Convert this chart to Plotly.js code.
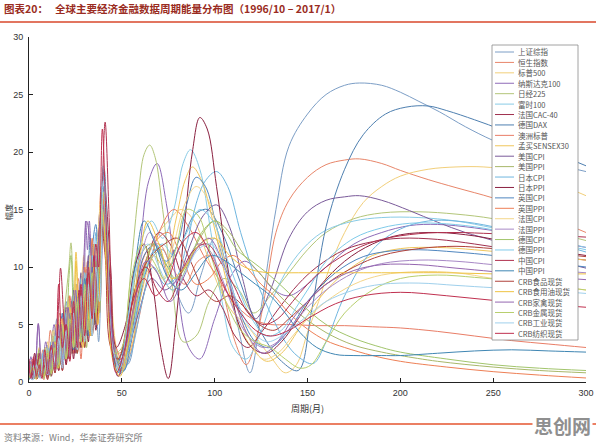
<!DOCTYPE html>
<html><head><meta charset="utf-8">
<script src="https://cdn.plot.ly/plotly-3.0.1.min.js"></script>
<style>html,body{margin:0;padding:0;background:#fff;}#chart{width:596px;height:443px;}</style>
</head><body><div id="chart"></div>
<script>
// ---- series names & colours (legend order) ----
const names = ["上证综指","恒生指数","标普500","纳斯达克100","日经225","富时100","法国CAC-40","德国DAX","澳洲标普","孟买SENSEX30",
  "美国CPI","美国PPI","日本CPI","日本PPI","英国CPI","英国PPI","法国CPI","法国PPI","德国CPI","德国PPI","中国CPI","中国PPI",
  "CRB食品现货","CRB食用油现货","CRB家禽现货","CRB金属现货","CRB工业现货","CRB纺织现货"];
const colors = ["#7c9ec6","#e8866a","#f2cf7a","#8e6bb8","#b3c679","#88cbe6","#a0304f","#4e7fb0","#e97d66","#f0c65c",
  "#7a5a9a","#a8b86a","#6fb6df","#8a2040","#4f86bf","#ee7f55","#f4d68a","#a889c6","#a2c56c","#7fcbea","#b0304e","#3f86b3",
  "#b0413a","#efc343","#9566b0","#b8cf6e","#9fd0ec","#c0304f"];

// ---- period (months) and amplitude values per series ----
const x01=[0,2,4,6,8,10,12.5,15,17.5,20,22.5,25,27.5,30,32.5,35,37.5,40.5,44,48,53,59,65,72,79,86,93,100,107,113,119,126,133,140,150,160,170,178,190,200,210,221,235,250,270,285,300];
const y01=[0.5,1.8,0.4,2.6,0.6,3.2,1.0,5.5,1.8,7.0,2.5,8.5,3.0,9.8,4.5,12.0,3.5,16.5,8.0,2.0,1.5,6.5,10.5,11.5,8.0,6.0,9.5,12.5,9.0,4.5,0.8,7.5,15.0,20.5,23.3,25.0,25.8,26.0,25.8,25.2,24.4,23.5,22.2,21.0,19.7,18.9,18.3];
const x02=[0,1.5,3.5,5.5,7.5,9.5,11.5,14,16.5,19,21.5,24,26.5,29,31.5,34,36.5,39.5,43,47,52,58,64,70,77,84,91,98,105,111,117,122,127,133,140,150,160,170,178,190,200,215,230,250,270,285,300];
const y02=[1.2,0.3,2.0,0.5,2.8,0.8,4.5,1.2,6.0,2.0,7.5,2.5,9.0,3.5,10.5,5.0,9.0,16.0,9.0,2.5,3.0,8.5,11.5,12.0,10.0,8.5,10.5,11.0,7.5,3.5,1.5,3.5,7.5,13.0,15.8,17.8,18.9,19.3,19.4,19.0,18.4,17.6,16.9,16.0,14.9,14.0,13.0];
const x03=[0,2,4,6,8,10,12,14.5,17,19.5,22,24.5,27,29.5,32,34.5,37,40,43.5,47,51,56,62,68,75,82,89,96,103,110,117,124,131,138,144,150,156,162,170,180,190,200,215,230,245,260,280,300];
const y03=[0.3,1.5,0.2,2.2,0.5,3.5,1.0,5.0,1.5,6.5,2.0,8.0,3.0,11.0,4.0,11.5,6.0,17.5,10.0,3.0,1.0,5.0,9.5,12.5,14.0,15.0,14.0,11.0,8.0,6.0,5.0,3.5,2.0,0.8,1.5,4.3,7.0,10.0,13.0,15.6,17.0,17.9,18.5,18.7,18.7,18.4,17.5,16.2];
const x04=[0,1,3,5,7,9,11,13.5,16,18.5,21,23.5,26,28.5,30.5,31.5,32.5,35,38.5,42,46,50,55,60,64.5,69,74,80,86,92,100,108,116,124,132,140,150,160,175,190,205,220,240,260,280,300];
const y04=[0.8,2.2,0.5,5.0,1.0,3.5,1.0,5.0,2.0,6.0,2.5,7.5,3.0,4.0,14.0,11.5,14.0,5.0,14.5,10.0,3.5,0.8,4.5,12.0,17.5,19.0,15.5,8.0,3.0,2.0,5.5,9.0,10.5,9.5,8.0,7.5,8.5,10.0,12.0,13.0,13.6,13.7,13.4,12.9,12.3,11.7];
const x05=[0,2,4,6,8,10,12,14,16.5,19,21.5,22.6,24,26.5,29,31.5,34,36.5,40,43.5,47,51,55,59,62,65,68,72,77,83,90,97,105,113,121,130,140,150,160,175,190,210,230,250,275,300];
const y05=[0.2,1.0,0.3,2.0,0.6,2.8,0.9,4.0,1.5,6.0,10.0,12.1,8.0,3.5,8.5,4.0,11.0,6.0,17.0,8.0,1.5,3.5,10.0,16.5,19.8,20.6,19.5,15.0,8.5,3.5,4.0,7.0,9.0,8.0,6.0,7.5,9.5,11.5,13.0,14.2,14.7,14.8,14.6,14.2,13.3,12.3];
const x06=[0,1.5,3.5,5.5,7.5,9.5,11.5,13.5,15.5,18,20.5,23,25.5,28,30.5,33,35.5,38.5,40,42,45,49,54,60,66,72,78,83,87,92,98,104,110,117,124,132,140,150,160,175,190,210,230,250,275,300];
const y06=[1.0,0.2,1.5,0.4,2.5,0.8,3.0,1.2,4.5,1.5,6.0,2.5,8.5,3.0,9.5,5.0,12.0,10.0,18.0,14.0,4.0,1.0,6.0,12.0,14.0,12.5,15.0,19.0,20.2,18.5,13.0,7.0,3.0,2.0,4.0,7.5,10.0,12.0,13.2,14.0,14.3,14.3,14.0,13.4,12.6,11.7];
const x07=[0,2,4,6,8,10,12,14,16,18,20,22,24,26,28,30,32,34,36.5,40.5,44,48,53,58,64,70,76,83,90,97,104,111,118,126,135,145,155,170,185,200,220,240,260,280,300];
const y07=[1.5,0.3,2.5,0.5,1.8,0.3,3.0,0.8,4.0,1.0,5.5,2.0,7.0,2.5,9.0,3.5,10.5,4.5,8.0,17.0,10.0,2.0,2.5,7.0,11.0,13.0,12.0,9.0,7.5,8.0,6.5,4.0,3.0,4.5,6.5,8.5,10.0,11.5,12.2,12.5,12.4,12.0,11.5,11.0,10.6];
const x08=[0,1,3,5,7,9,11,13,15.5,18,20.5,23,25.5,28,30.5,33,35.5,38,40.5,43,47,51,56,62,68,75,82,89,96,104,112,120,128,136,145,152,160,170,180,192,203,215,225,240,255,270,285,300];
const y08=[0.4,1.6,0.3,2.2,0.6,3.0,1.0,4.5,1.2,6.0,2.0,7.0,2.5,8.5,4.0,12.5,5.0,12.0,18.5,9.0,1.5,3.0,6.0,11.0,12.0,10.0,12.0,14.5,15.0,13.0,9.5,6.0,3.5,1.8,1.0,6.0,13.5,18.5,21.5,23.3,23.9,24.0,23.6,22.8,21.9,20.8,19.8,18.8];
const x09=[0,2,4,6,8,10,12,14,16,18,20,22,24,26,28,30,32,34.5,37,40,43,47,52,57,63,70,78,86,94,102,110,120,130,140,155,170,185,200,220,240,260,280,300];
const y09=[0.6,2.0,0.4,1.5,0.2,2.5,0.6,3.5,1.0,5.0,1.5,6.0,2.5,7.0,2.0,8.0,4.0,10.0,5.0,14.0,8.0,3.0,1.5,4.0,8.5,13.0,15.0,13.5,11.0,9.0,7.0,5.5,5.0,5.0,4.9,4.9,4.8,4.7,4.4,4.0,3.6,3.3,3.0];
const x10=[0,1.5,3.5,5.5,7.5,9.5,11.5,13.5,15.5,17.5,19.5,21.5,23.5,25.3,27,29,31,33,35,37.5,40,43,46,50,55,61,67,73,79,84,88,93,99,106,113,120,128,136,145,155,170,185,200,220,240,260,280,300];
const y10=[0.3,1.8,0.5,3.0,0.8,2.5,0.7,4.0,1.5,5.5,2.5,7.0,3.0,11.3,6.0,3.5,9.0,4.5,12.0,6.0,16.5,11.0,3.0,1.0,3.0,8.0,11.0,10.0,14.0,17.5,18.7,17.5,14.0,9.0,5.0,3.0,1.8,2.5,4.5,7.0,9.5,11.0,11.6,11.7,11.5,11.2,10.9,10.6];
const x11=[0,2,4,6,8,10,12,14,16,18,20,22,24,26,28,30,32,34,36,38.5,41,44,48,53,59,66,73,80,87,94,101,108,115,122,130,140,150,160,170,178,190,205,220,235,250,270,285,300];
const y11=[0.8,0.2,1.5,0.4,2.0,0.5,3.5,1.0,5.0,1.5,6.5,2.0,8.0,3.0,9.5,4.0,11.0,5.5,9.0,15.0,12.0,4.0,0.5,2.5,6.0,9.0,8.0,9.0,12.0,14.5,15.4,13.5,9.0,5.5,8.0,12.5,14.8,15.8,16.1,16.2,15.8,14.9,13.9,13.0,12.3,11.2,10.5,9.9];
const x12=[0,1,3,5,7,9,11,13,15,17,19,21,23,25,27,29,31,33,35,37,39.5,42,45,49,54,60,66,72,78,85,92,100,108,116,124,135,145,160,175,190,200,220,250,275,300];
const y12=[0.5,1.5,0.3,2.5,0.5,3.0,0.8,4.0,1.5,5.5,2.0,6.5,2.5,8.0,3.5,9.0,3.0,10.5,5.0,9.0,16.0,9.5,2.5,1.0,5.0,11.0,12.0,9.0,8.0,10.0,12.5,14.0,13.0,11.0,9.5,7.5,6.0,4.3,3.2,2.6,2.3,1.8,1.3,1.0,0.8];
const x13=[0,2,4,6,8,10,12,14,16,18,20,22,24,26,28,30,32,34,36,38,40,42.5,46,50,55,61,67,73,79,85,90,95,101,107,114,122,130,138,145,153,160,170,185,200,215,230,250,270,285,300];
const y13=[1.2,0.3,1.8,0.6,2.8,0.8,3.5,1.2,4.0,2.0,6.0,2.5,7.5,3.5,9.0,4.5,10.0,5.0,13.0,8.0,18.0,11.0,3.0,0.8,2.5,7.0,10.0,8.5,9.0,12.0,15.5,17.5,18.3,17.0,13.0,9.0,6.0,3.5,2.2,1.6,3.5,7.5,11.5,13.3,14.0,14.0,13.5,12.6,12.0,11.3];
const x14=[0,1.5,3,4.5,6,8,10,12,14,16,18,20,22,24,26,28,30,32,34,36,38,40.5,43,47,52,57,62,67,71,75,79,84,88,92,96,101,107,113,120,128,136,145,155,170,185,200,220,240,260,280,300];
const y14=[1.8,0.5,2.5,0.3,1.5,0.4,2.0,0.5,3.0,1.0,4.5,1.5,6.0,2.0,7.5,3.0,8.5,3.5,10.0,4.5,9.0,15.5,10.0,3.0,5.0,10.0,12.0,8.0,3.0,0.3,5.0,14.0,20.0,23.0,22.0,17.0,10.0,5.0,3.0,2.5,3.5,5.5,8.0,10.5,12.0,12.8,13.0,12.7,12.1,11.5,11.0];
const x15=[0,2,4,6,8,10,12,14,16,18,20,22,24,26,28,30,32,34,36,38,40,43,47,51,56,62,68,74,80,85,90,95,101,108,115,122,130,140,150,165,180,195,210,230,250,275,300];
const y15=[0.3,1.2,0.4,2.0,0.7,2.6,1.0,3.2,1.5,5.0,2.0,6.0,3.0,7.0,3.5,8.5,4.0,11.5,13.7,9.0,14.0,8.0,2.0,1.0,4.5,9.0,11.5,10.5,12.0,15.5,17.8,17.0,13.5,9.0,5.5,3.5,3.0,4.5,7.0,9.5,10.9,11.4,11.5,11.3,11.0,10.5,10.0];
const x16=[0,2,4,6,8,10,12,14,16,18,20,22,24,26,28,30,32,34,36,39,42,45,49,54,60,67,75,83,90,97,104,110,117,125,132,140,150,160,170,185,200,225,250,275,300];
const y16=[0.4,1.5,0.3,2.0,0.6,3.0,1.0,3.8,1.5,5.5,2.5,7.5,3.0,8.5,4.0,10.0,5.0,12.5,7.0,17.0,11.0,4.0,1.0,4.0,9.0,12.0,13.0,10.5,8.5,9.0,10.5,11.0,10.0,8.5,7.5,6.0,4.6,3.6,3.0,2.3,1.8,1.3,0.9,0.6,0.35];
const x17=[0,1,3,5,7,9,11,13,15,17,19,21,23,25,27,29,31,33,35,37,39,41.5,45,49,54,60,66,72,78,84,90,96,103,110,118,126,134,142,150,160,175,190,210,230,250,275,300];
const y17=[0.6,1.6,0.4,2.2,0.5,3.0,1.0,4.5,1.2,5.5,2.0,7.0,3.0,8.5,3.5,10.0,4.5,11.0,6.0,12.5,16.0,12.0,3.5,1.0,4.0,8.0,10.0,9.0,12.0,15.5,17.0,16.0,12.0,7.5,4.0,2.0,2.5,4.0,5.5,7.0,8.5,9.3,9.6,9.5,9.0,8.5,8.0];
const x18=[0,2,4,6,8,10,12,14,16,18,20,22,24,26,28,30,32,34,36,38,40.5,43,46,50,55,60,65,71,77,84,91,97,104,111,118,126,134,142,150,160,175,190,210,230,250,275,300];
const y18=[0.9,0.2,1.8,0.5,2.2,0.6,3.0,1.0,4.5,1.5,5.5,2.5,6.5,3.0,8.0,4.0,9.0,5.0,11.0,6.0,14.5,9.0,2.5,1.5,5.0,10.5,13.0,11.0,8.5,10.0,12.0,11.5,9.0,6.0,4.0,3.0,3.5,5.0,6.5,8.0,9.5,10.3,10.6,10.5,10.2,9.8,9.5];
const x19=[0,1.5,3.5,5.5,7.5,9.5,11.5,13.5,15.5,17.5,19.5,21.5,22.6,24,26,28,30,32,34,36,38,40,42.5,46,50,55,61,67,73,79,86,93,100,106,112,120,128,135,145,160,175,190,200,225,250,275,300];
const y19=[0.3,1.5,0.4,2.8,0.7,2.0,0.5,3.5,1.2,5.0,2.0,9.0,11.0,6.0,2.5,7.0,3.0,8.5,4.0,10.5,6.0,15.0,10.0,3.0,1.2,4.5,9.0,12.0,10.5,9.0,10.5,13.0,14.0,13.0,11.5,10.5,9.5,8.5,7.0,5.0,3.8,3.0,2.6,2.0,1.5,1.2,1.0];
const x20=[0,2,4,6,8,10,12,14,16,18,20,22,24,26,28,30,32,34,36,38,40,42,45,49,54,60,66,72,78,85,92,99,106,113,120,128,136,144,152,160,175,190,205,220,240,260,280,300];
const y20=[0.5,1.5,0.3,2.0,0.8,3.0,1.0,4.0,1.5,5.0,2.5,6.5,3.0,8.0,4.0,9.5,5.0,11.0,7.0,13.0,18.8,13.0,3.5,0.8,3.0,8.0,11.0,12.0,11.0,13.0,15.0,14.0,11.0,8.0,5.5,4.0,4.5,6.5,8.5,10.5,12.5,13.4,13.8,13.8,13.5,12.9,12.2,11.5];
const x21=[0,1,2.5,4,5.5,7,8.5,10,12,14,16,17,19,21,23,25,27,29,31,33,35,37,39,41,43,45.5,48,52,57,63,69,75,82,89,96,103,110,118,126,134,142,150,160,175,190,210,230,250,275,300];
const y21=[2.0,0.5,1.8,0.3,2.5,0.8,2.0,0.5,3.0,1.0,7.0,9.9,5.0,2.0,6.0,2.5,8.0,3.5,9.0,4.0,11.0,5.5,14.0,22.6,15.0,3.0,0.5,3.0,8.0,10.0,8.0,7.0,9.5,11.5,12.0,10.5,8.5,6.0,5.0,5.5,7.0,8.5,10.0,11.5,12.4,12.9,13.0,12.9,12.8,12.6];
const x22=[0,2,4,6,8,10,12,14,16,18,20,22,24,26,28,30,32,34,36,38,40,42,44.5,48,52,57,62,68,75,82,90,98,106,114,122,130,138,146,155,165,175,190,200,220,240,260,280,300];
const y22=[0.2,1.0,0.4,1.8,0.6,2.4,0.9,3.5,1.3,4.5,2.0,6.0,2.8,7.5,3.5,9.0,4.5,10.0,6.0,11.5,17.0,12.0,3.0,0.8,4.0,10.0,14.0,12.0,9.0,8.0,9.5,11.0,10.5,9.5,8.5,7.5,6.0,4.3,3.0,2.4,2.3,2.3,2.3,2.5,2.7,2.8,2.7,2.6];
const x23=[0,2,4,6,8,10,12,14,16,18,20,22,24,26,28,30,32,34,36,38.5,41,44,48,53,59,66,73,80,87,94,101,108,116,124,132,140,150,160,175,190,210,230,250,275,300];
const y23=[1.0,0.3,2.0,0.5,1.5,0.2,2.5,0.8,4.0,1.0,5.0,2.0,6.5,2.5,8.0,3.0,9.5,4.0,8.0,14.0,11.0,3.0,2.0,5.0,9.0,11.0,12.0,12.5,10.5,8.0,7.0,7.5,6.5,5.0,4.5,5.5,7.0,8.5,10.0,11.0,11.6,11.8,11.6,11.3,10.9];
const x24=[0,2,4,6,8,10,12,14,16,18,20,22,24,25.3,27,29,31,33,35,37,39.5,42,45,49,54,59,64,70,77,84,92,100,108,116,124,132,145,160,180,200,225,250,275,300];
const y24=[0.4,1.2,0.3,1.8,0.5,2.5,0.8,3.5,1.2,5.0,2.0,6.5,3.0,10.5,5.0,3.0,7.5,4.0,10.0,5.0,15.0,9.0,2.0,0.5,4.0,10.0,14.0,12.0,9.0,10.0,12.0,12.5,11.0,10.0,9.6,9.5,9.5,9.5,9.5,9.5,9.5,9.4,9.4,9.4];
const x25=[0,1,3,5,7,9,11,13,15,17,19,21,23,25,27,29,31,33,35,37,39.5,42,45,48,52,57,63,69,76,83,90,97,104,111,118,126,134,142,150,160,175,190,210,230,250,275,300];
const y25=[0.5,1.8,0.4,5.1,1.0,2.5,0.6,3.5,1.5,5.0,2.0,6.5,3.0,8.0,4.0,9.0,14.0,12.0,6.0,11.0,15.5,12.0,4.0,1.5,3.0,7.0,10.5,9.5,7.0,9.0,11.5,12.5,10.5,7.0,4.0,2.5,3.5,5.5,7.0,8.5,9.7,10.2,10.2,9.9,9.6,9.2,8.9];
const x26=[0,2,4,6,8,10,12,14,16,18,20,22,24,26,28,30,32,34,36,38,40,42.5,46,50,55,61,67,73,79,85,91,98,106,114,122,130,138,146,152,160,170,185,200,220,240,260,280,300];
const y26=[0.3,1.3,0.5,2.0,0.3,2.8,0.7,3.0,1.5,4.5,2.0,5.5,3.0,7.0,3.5,8.5,4.5,9.5,6.0,12.0,16.5,10.0,2.5,3.0,9.0,12.0,10.5,9.0,11.5,15.0,14.5,11.0,7.0,4.5,3.5,3.0,2.0,1.2,1.5,3.5,6.0,8.0,9.0,9.3,9.1,8.8,8.4,8.0];
const x27=[0,2,4,6,8,10,12,14,16,18,20,22,24,26,28,30,32,34,36,38,40,42,45,49,53,58,64,70,77,84,91,98,105,112,120,128,136,144,152,160,175,190,210,230,250,275,300];
const y27=[0.8,0.2,1.5,0.3,2.2,0.6,2.8,1.0,3.8,1.2,4.5,2.2,6.0,2.8,7.5,3.5,8.5,4.0,10.0,7.0,17.5,12.0,3.0,1.2,5.0,10.0,12.0,10.0,8.0,9.5,11.5,12.0,10.0,7.0,4.5,3.5,4.0,5.0,6.0,7.0,8.0,8.5,8.6,8.4,8.2,8.0,7.7];
const x28=[0,1,2.5,4,5.5,7,8.5,10,12,14,16,18,20,22,24,26,28,30,32,34,36,37.5,39.5,41.5,44,47,51,56,62,68,75,82,90,98,106,114,122,130,140,150,165,180,200,225,250,275,300];
const y28=[1.5,0.3,2.2,0.5,1.5,0.3,2.8,0.7,3.2,1.0,8.5,3.0,5.0,1.8,7.0,3.0,8.5,4.0,10.0,5.5,12.0,10.0,22.0,14.0,4.0,0.8,2.5,7.0,9.0,7.5,9.0,12.0,13.0,11.0,8.0,6.0,4.5,4.0,4.5,5.5,6.8,7.5,7.8,7.5,7.1,6.8,6.5];

const xTicks=[0,50,100,150,200,250,300];
const yTicks=[0,5,10,15,20,25,30];

const xs=[x01,x02,x03,x04,x05,x06,x07,x08,x09,x10,x11,x12,x13,x14,x15,x16,x17,x18,x19,x20,x21,x22,x23,x24,x25,x26,x27,x28];
const ys=[y01,y02,y03,y04,y05,y06,y07,y08,y09,y10,y11,y12,y13,y14,y15,y16,y17,y18,y19,y20,y21,y22,y23,y24,y25,y26,y27,y28];

const W=596,H=443,M={l:29,r:10,t:37,b:61};
const PW=W-M.l-M.r, PH=H-M.t-M.b;
const px=(p)=>(p-M.l)/PW;          // pixel -> paper x
const py=(p)=>(H-M.b-p)/PH;        // pixel -> paper y

const traces=names.map((n,i)=>({
  type:'scatter',mode:'lines',name:n,x:xs[i],y:ys[i],
  line:{color:colors[i],width:1,shape:'spline',smoothing:1},
  hoverinfo:'skip',showlegend:false
}));

const FONT="Liberation Sans, Arial, 'Noto Sans CJK SC', sans-serif";
const CJK="'Noto Sans CJK SC', 'Liberation Sans', sans-serif";

const shapes=[
  {type:'line',xref:'paper',yref:'paper',x0:px(0),x1:px(W),y0:py(22),y1:py(22),line:{color:'#d9472b',width:1.5},layer:'above'},
  {type:'line',xref:'paper',yref:'paper',x0:px(0),x1:px(W),y0:py(424),y1:py(424),line:{color:'#e4552f',width:1.5},layer:'above'},
  {type:'rect',xref:'paper',yref:'paper',x0:px(492),x1:px(578),y0:py(340),y1:py(45),fillcolor:'#ffffff',line:{color:'#8a8a8a',width:0.8},layer:'above'}
];
const annotations=[
  {xref:'paper',yref:'paper',x:px(2),y:py(9),xanchor:'left',yanchor:'middle',showarrow:false,
   text:'<b>图表20：   全球主要经济金融数据周期能量分布图（1996/10 – 2017/1）</b>',font:{family:CJK,size:10.5,color:'#9a2c22'}},
  {xref:'paper',yref:'paper',x:px(2),y:py(437),xanchor:'left',yanchor:'middle',showarrow:false,
   text:'资料来源：Wind，华泰证券研究所',font:{family:CJK,size:9,color:'#808080'}},
  {xref:'paper',yref:'paper',x:px(307),y:py(408),xanchor:'center',yanchor:'middle',showarrow:false,
   text:'周期(月)',font:{family:CJK,size:9,color:'#333'}},
  {xref:'paper',yref:'paper',x:px(8),y:py(212),xanchor:'center',yanchor:'middle',showarrow:false,textangle:-90,
   text:'幅度',font:{family:CJK,size:8,color:'#333'}},
  {xref:'paper',yref:'paper',x:px(562),y:py(425),xanchor:'center',yanchor:'middle',showarrow:false,bgcolor:'#ffffff',
   text:'<b>思创网</b>',font:{family:CJK,size:19,color:'#8f8f8f'}}
];
const step=10.42;
names.forEach((n,i)=>{
  const yy=52+i*step;
  shapes.push({type:'line',xref:'paper',yref:'paper',x0:px(495),x1:px(514),y0:py(yy),y1:py(yy),line:{color:colors[i],width:1},layer:'above'});
  annotations.push({xref:'paper',yref:'paper',x:px(516),y:py(yy),xanchor:'left',yanchor:'middle',showarrow:false,
    text:n,font:{family:CJK,size:7.5,color:'#555'}});
});

const layout={
  width:W,height:H,margin:M,paper_bgcolor:'#fff',plot_bgcolor:'#fff',showlegend:false,
  font:{family:FONT,size:9,color:'#333'},
  xaxis:{range:[0,300],tickvals:xTicks,ticktext:xTicks.map(String),ticks:'inside',ticklen:4,tickcolor:'#222',
    showline:true,linecolor:'#222',linewidth:1,showgrid:false,zeroline:false,ticklabelstandoff:2,
    tickfont:{family:FONT,size:9,color:'#333'}},
  yaxis:{range:[0,30],tickvals:yTicks,ticktext:yTicks.map(String),ticks:'inside',ticklen:4,tickcolor:'#222',
    showline:true,linecolor:'#222',linewidth:1,showgrid:false,zeroline:false,ticklabelstandoff:3,
    tickfont:{family:FONT,size:9,color:'#333'}},
  shapes:shapes,annotations:annotations
};
Plotly.newPlot('chart',traces,layout,{displayModeBar:false,staticPlot:true});
</script></body></html>
